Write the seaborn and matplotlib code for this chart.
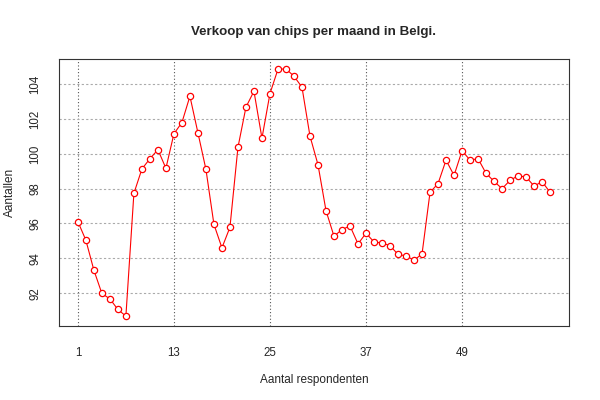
import numpy as np
import pandas as pd
import matplotlib
matplotlib.use("Agg")
import matplotlib.pyplot as plt
import seaborn as sns

# monthly values
maand = list(range(1, 61))
aantallen = [
    96.11, 95.04, 93.32, 91.98, 91.67, 91.06, 90.68, 97.73, 99.13, 99.72,
    100.24, 99.17, 101.15, 101.80, 103.31, 101.21, 99.11, 95.95, 94.60, 95.78,
    100.37, 102.68, 103.60, 100.90, 103.46, 104.86, 104.88, 104.46, 103.83, 101.02,
    99.38, 96.74, 95.27, 95.65, 95.86, 94.83, 95.44, 94.94, 94.88, 94.73,
    94.22, 94.14, 93.89, 94.25, 97.79, 98.29, 99.64, 98.76, 100.18, 99.64,
    99.72, 98.88, 98.42, 98.00, 98.48, 98.74, 98.67, 98.15, 98.40, 97.79,
]
x_ticks = [1, 13, 25, 37, 49]
y_ticks = [92, 94, 96, 98, 100, 102, 104]

df = pd.DataFrame({"maand": maand, "aantal": aantallen})

sns.set_style("white")
plt.rcParams["font.family"] = ["Liberation Sans", "DejaVu Sans"]

fig = plt.figure(figsize=(6, 4), dpi=100)
ax = fig.add_axes([0.0983, 0.185, 0.85, 0.6675])

sns.lineplot(data=df, x="maand", y="aantal", ax=ax, color="red",
             linewidth=0.8, marker="o", markersize=4.5,
             markerfacecolor="white", markeredgecolor="red",
             markeredgewidth=0.9)

# R-style axis padding (4% each side)
xr = max(maand) - min(maand)
yr = max(aantallen) - min(aantallen)
ax.set_xlim(min(maand) - 0.04 * xr, max(maand) + 0.04 * xr)
ax.set_ylim(min(aantallen) - 0.04 * yr, max(aantallen) + 0.04 * yr)

ax.set_xticks(x_ticks)
ax.set_yticks(y_ticks)
for t in x_ticks:
    ax.axvline(t, color="#555555", linestyle=(0, (1, 2)), linewidth=0.8, zorder=0)
for t in y_ticks:
    ax.axhline(t, color="#aaaaaa", linestyle=(0, (2, 2)), linewidth=0.8, zorder=0)

ax.tick_params(axis="both", direction="out", length=6.5, width=0.8,
               color="#333333", labelsize=8.3)
ax.tick_params(axis="x", pad=8.5)
ax.tick_params(axis="y", pad=6)
plt.setp(ax.get_yticklabels(), rotation=90, va="center", ha="right")
for s in ax.spines.values():
    s.set_color("#333333")
    s.set_linewidth(0.8)

ax.set_xlabel("Aantal respondenten", fontsize=8.5, labelpad=11)
ax.set_ylabel("Aantallen", fontsize=8.5, labelpad=10)
ax.set_title("Verkoop van chips per maand in Belgi.", fontsize=9.6,
             fontweight="bold", pad=17)

fig.savefig("out.png", dpi=100)
